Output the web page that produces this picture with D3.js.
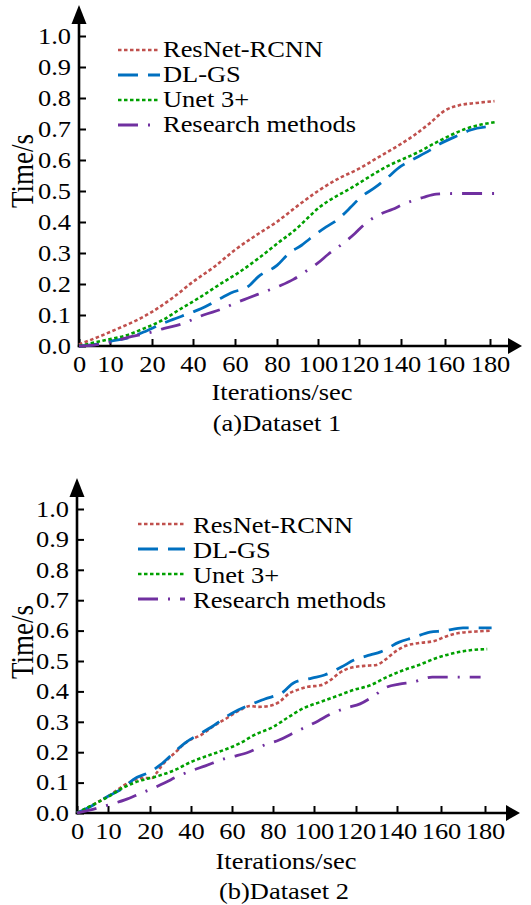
<!DOCTYPE html>
<html>
<head>
<meta charset="utf-8">
<script src="https://cdn.jsdelivr.net/npm/d3@7"></script>
<style>
    body { margin: 0; background: #fff; }
    svg { display: block; }
</style>
</head>
<body>
<svg id="grafico"></svg>
<script>
// tick labels
const iterTicks = [0, 10, 20, 40, 60, 80, 100, 120, 140, 160, 180];
const timeTicks = [0, 0.1, 0.2, 0.3, 0.4, 0.5, 0.6, 0.7, 0.8, 0.9, 1.0];
const methodNames = ['ResNet-RCNN', 'DL-GS', 'Unet 3+', 'Research methods'];

// dataset 1, [iterations, time]
const resnet1 = [[0, 0.005], [10, 0.045], [20, 0.11], [30, 0.155], [40, 0.207], [50, 0.255], [60, 0.31],
    [70, 0.357], [80, 0.401], [90, 0.452], [100, 0.5], [110, 0.54], [120, 0.572], [130, 0.612],
    [140, 0.652], [146, 0.68], [153, 0.718], [160, 0.76], [166, 0.776], [174, 0.784], [182, 0.79]];
const dlgs1 = [[0, 0], [7, 0.008], [10, 0.015], [15, 0.029], [18, 0.045], [25, 0.072], [30, 0.085],
    [40, 0.11], [44, 0.121], [53, 0.153], [58, 0.171], [67, 0.196], [71, 0.223], [80, 0.26], [86, 0.3],
    [92, 0.325], [96, 0.346], [104, 0.384], [109, 0.405], [116, 0.448], [120, 0.475], [128, 0.513],
    [133, 0.54], [140, 0.58], [145, 0.6], [153, 0.631], [158, 0.653], [167, 0.683], [171, 0.696], [181, 0.709]];
const unet1 = [[0, 0], [8, 0.018], [14, 0.035], [18, 0.056], [25, 0.083], [34, 0.12], [44, 0.16],
    [53, 0.2], [62, 0.238], [72, 0.287], [81, 0.335], [88, 0.37], [101, 0.449], [117, 0.513],
    [133, 0.578], [148, 0.626], [158, 0.664], [169, 0.7], [183, 0.723]];
const research1 = [[0, 0], [5, 0.003], [10, 0.012], [15, 0.03], [20, 0.045], [26, 0.057], [35, 0.072],
    [40, 0.086], [45, 0.1], [54, 0.12], [60, 0.138], [66, 0.154], [76, 0.18], [82, 0.196], [88, 0.215],
    [95, 0.245], [100, 0.268], [105, 0.296], [113, 0.335], [118, 0.363], [122, 0.389], [130, 0.425],
    [136, 0.441], [141, 0.457], [150, 0.479], [156, 0.49], [165, 0.492], [185, 0.492]];

// dataset 2
const resnet2 = [[0, 0], [7, 0.037], [10, 0.055], [15, 0.1], [18, 0.115], [21, 0.115], [23, 0.13],
    [26, 0.158], [32, 0.197], [38, 0.234], [45, 0.257], [51, 0.286], [57, 0.31], [64, 0.339], [69, 0.352],
    [73, 0.349], [78, 0.352], [83, 0.365], [88, 0.394], [92, 0.405], [97, 0.415], [103, 0.42], [108, 0.438],
    [112, 0.46], [117, 0.477], [124, 0.484], [130, 0.487], [134, 0.503], [139, 0.53], [144, 0.55],
    [150, 0.559], [157, 0.566], [162, 0.58], [168, 0.592], [176, 0.597], [183, 0.6]];
const dlgs2 = [[0, 0], [6.5, 0.033], [10, 0.055], [14, 0.086], [16, 0.11], [20, 0.135], [25, 0.158],
    [33, 0.207], [37, 0.23], [45, 0.263], [50, 0.283], [57, 0.316], [63, 0.339], [71, 0.362], [76, 0.375],
    [85, 0.398], [90, 0.428], [99, 0.444], [105, 0.454], [113, 0.48], [119, 0.503], [127, 0.52],
    [132, 0.53], [141, 0.562], [147, 0.576], [155, 0.595], [161, 0.599], [170, 0.609], [183, 0.609]];
const unet2 = [[0, 0], [7, 0.037], [10, 0.053], [14, 0.086], [18, 0.108], [22, 0.118], [32, 0.141],
    [40, 0.168], [48, 0.188], [56, 0.207], [64, 0.23], [71, 0.257], [80, 0.283], [87, 0.313], [95, 0.345],
    [103, 0.365], [111, 0.385], [119, 0.405], [127, 0.42], [135, 0.447], [143, 0.47], [150, 0.487],
    [158, 0.51], [166, 0.526], [174, 0.536], [181, 0.539]];
const research2 = [[0, 0], [6.5, 0.016], [11, 0.03], [14, 0.043], [18, 0.066], [21, 0.08], [27, 0.099],
    [35, 0.125], [41, 0.141], [47, 0.155], [56, 0.178], [62, 0.188], [68, 0.2], [76, 0.224], [83, 0.24],
    [89, 0.26], [96, 0.283], [102, 0.303], [107, 0.322], [115, 0.345], [122, 0.359], [128, 0.382],
    [135, 0.414], [141, 0.424], [147, 0.43], [156, 0.447], [162, 0.447], [178, 0.447]];

const estilos = [
    { cor: '#c0504d', traco: '3.5,2.5', largura: 2.6 },
    { cor: '#0070c0', traco: '20,10', largura: 2.8 },
    { cor: '#00a000', traco: '3.5,2.5', largura: 2.6 },
    { cor: '#7030a0', traco: '20,10,2,10', largura: 2.8 }
];

const FONTE = '"Liberation Serif", "Times New Roman", serif';
const ESTICA = 1.15; // the picture is a bit wider than tall

let svg = d3
    .select('#grafico')
    .attr('width', 531)
    .attr('height', 905);

function texto(g, x, y, str, tamanho, ancora, rot) {
    g.append('text')
        .attr('transform', 'translate(' + x + ',' + y + ') scale(' + ESTICA + ',1)' + (rot ? ' rotate(-90)' : ''))
        .attr('font-family', FONTE)
        .attr('font-size', tamanho)
        .attr('text-anchor', ancora)
        .attr('fill', '#000')
        .text(str);
}

function estiloEixo(sel) {
    sel.select('.domain').remove();
    sel.selectAll('.tick line').attr('stroke', '#000').attr('stroke-width', 2);
    sel.selectAll('.tick text')
        .attr('font-family', FONTE)
        .attr('font-size', 23)
        .attr('fill', '#000')
        .attr('transform', 'scale(' + ESTICA + ',1)');
}

function Painel(p) {
    let g = svg.append('g');

    let fnX = d3.scaleLinear().domain(iterTicks).range(p.posX);
    let fnY = d3.scaleLinear().domain([0, 1]).range([p.y0, p.y1]);
    let x0 = p.posX[0];

    let eixoY = d3.axisLeft(fnY)
        .tickValues(timeTicks)
        .tickFormat(d3.format('.1f'))
        .tickSizeInner(-7)
        .tickSizeOuter(0)
        .tickPadding(7);
    g.append('g')
        .attr('transform', 'translate(' + x0 + ',0)')
        .call(eixoY)
        .call(estiloEixo);

    let eixoX = d3.axisBottom(fnX)
        .tickValues(iterTicks)
        .tickSizeInner(-7)
        .tickSizeOuter(0)
        .tickPadding(10);
    g.append('g')
        .attr('transform', 'translate(0,' + p.y0 + ')')
        .call(eixoX)
        .call(estiloEixo);

    // axis lines with arrow heads
    g.append('line')
        .attr('x1', x0).attr('y1', p.y0 + 1.2)
        .attr('x2', x0).attr('y2', p.setaY + 17)
        .attr('stroke', '#000').attr('stroke-width', 2.6);
    g.append('path')
        .attr('d', 'M' + x0 + ',' + p.setaY + 'L' + (x0 - 7.5) + ',' + (p.setaY + 19) + 'L' + (x0 + 7.5) + ',' + (p.setaY + 19) + 'Z')
        .attr('fill', '#000');
    g.append('line')
        .attr('x1', x0 - 1.2).attr('y1', p.y0)
        .attr('x2', p.setaX - 12).attr('y2', p.y0)
        .attr('stroke', '#000').attr('stroke-width', 2.6);
    g.append('path')
        .attr('d', 'M' + p.setaX + ',' + p.y0 + 'L' + (p.setaX - 14) + ',' + (p.y0 - 8) + 'L' + (p.setaX - 14) + ',' + (p.y0 + 8) + 'Z')
        .attr('fill', '#000');

    let linha = d3.line()
        .x(d => fnX(d[0]))
        .y(d => fnY(d[1]))
        .curve(d3.curveMonotoneX);

    p.series.forEach((s, i) => {
        g.append('path')
            .attr('d', linha(s))
            .attr('fill', 'none')
            .attr('stroke', estilos[i].cor)
            .attr('stroke-width', estilos[i].largura)
            .attr('stroke-dasharray', estilos[i].traco);
    });

    // legend
    methodNames.forEach((nome, i) => {
        let yb = p.legenda.y + i * 25;
        g.append('line')
            .attr('x1', p.legenda.x1).attr('x2', p.legenda.x2)
            .attr('y1', yb - p.legenda.dy).attr('y2', yb - p.legenda.dy)
            .attr('stroke', estilos[i].cor)
            .attr('stroke-width', estilos[i].largura)
            .attr('stroke-dasharray', estilos[i].traco);
        texto(g, p.legenda.xt, yb, nome, 23, 'start');
    });

    texto(g, 33, p.rotuloY, 'Time/s', 27, 'middle', true);
    texto(g, p.rotuloX[0], p.rotuloX[1], 'Iterations/sec', 23, 'middle');
    texto(g, p.titulo[0], p.titulo[1], p.tituloTexto, 23, 'middle');
}

Painel({
    posX: [79, 110, 152, 193, 235, 277, 318, 359, 401, 445, 490],
    y0: 346, y1: 36, setaY: 5, setaX: 522,
    series: [resnet1, dlgs1, unet1, research1],
    legenda: { x1: 118, x2: 160, xt: 163, y: 57, dy: 7 },
    rotuloY: 171,
    rotuloX: [282, 400],
    titulo: [277, 431],
    tituloTexto: '(a)Dataset 1'
});

Painel({
    posX: [77, 108, 150, 191, 232, 273, 314, 356, 397, 441, 485],
    y0: 813, y1: 509, setaY: 478, setaX: 520,
    series: [resnet2, dlgs2, unet2, research2],
    legenda: { x1: 138, x2: 185, xt: 193, y: 533, dy: 9 },
    rotuloY: 642,
    rotuloX: [286, 869],
    titulo: [284, 899],
    tituloTexto: '(b)Dataset 2'
});
</script>
</body>
</html>
